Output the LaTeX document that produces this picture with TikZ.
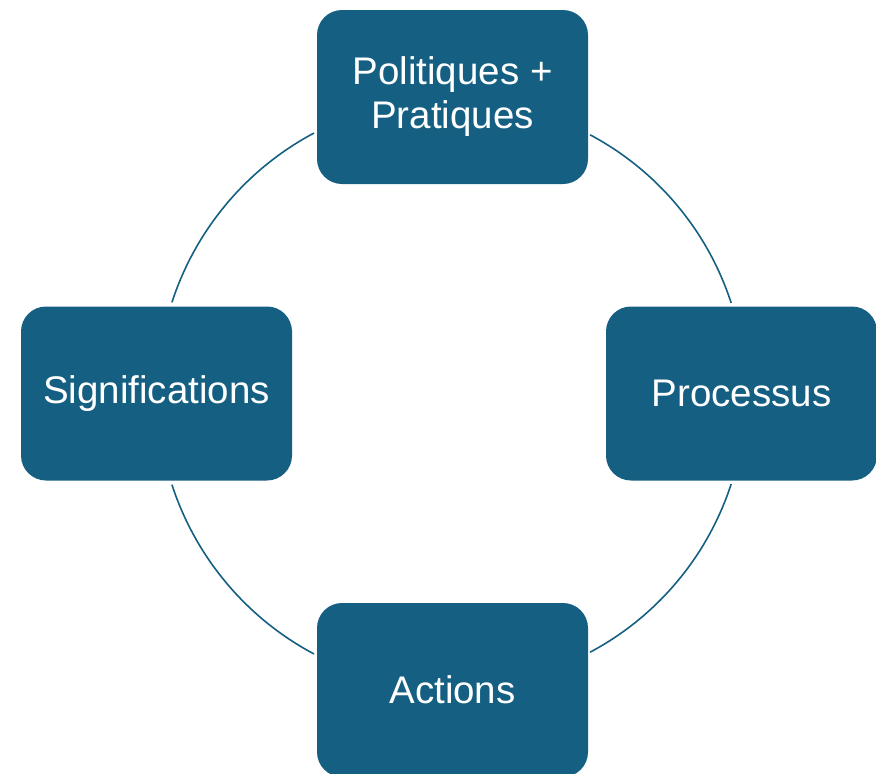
\documentclass[tikz,border=0pt]{standalone}
\usepackage{fontspec}
\setmainfont{Liberation Sans}
\definecolor{teal1}{HTML}{156082}
\begin{document}
\begin{tikzpicture}[x=1pt,y=-1pt,
  box/.style={rectangle, rounded corners=25pt, fill=teal1, text=white,
    minimum width=271pt, minimum height=174pt, inner sep=0pt, align=center,
    font=\fontsize{38.5}{44}\selectfont},
  ring/.style={draw=teal1, line width=1.6pt}]
\useasboundingbox (0,0) rectangle (876,774);
\coordinate (c) at (452.5,393.5);
\draw[ring] (c) ++(118:295) arc[start angle=118, end angle=162, radius=295];
\draw[ring] (c) ++(62:293) arc[start angle=62, end angle=18, radius=293];
\draw[ring] (c) ++(-118:295) arc[start angle=-118, end angle=-162, radius=295];
\draw[ring] (c) ++(-62:293) arc[start angle=-62, end angle=-18, radius=293];
\node[box] (top) at (452.5,97) {Politiques +\\Pratiques};
\node[box] (left) at (156.5,393.5) {Significations};
\node[box] (right) at (741.5,393.5) {Processus};
\node[box] (bottom) at (452.5,690) {Actions};
\end{tikzpicture}
\end{document}
